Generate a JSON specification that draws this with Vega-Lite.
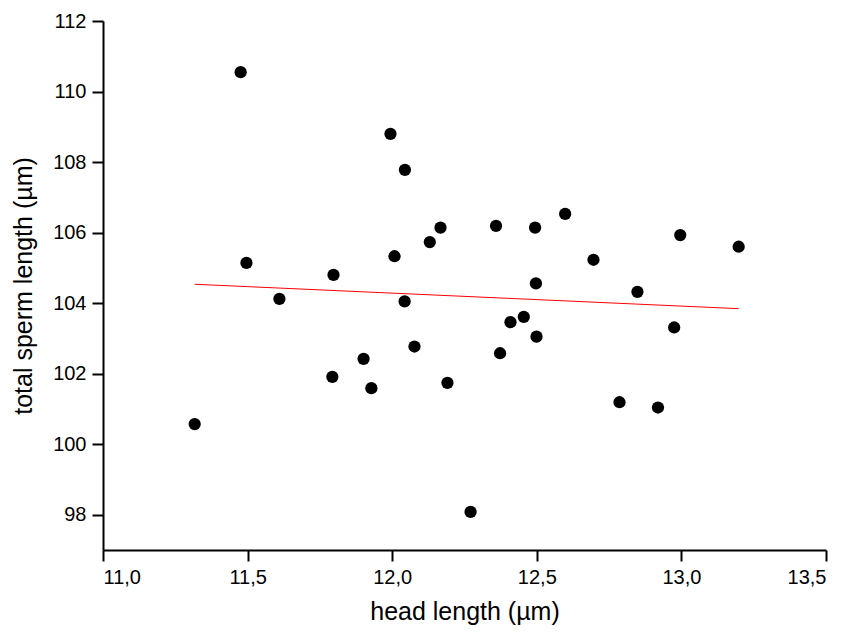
{
  "$schema": "https://vega.github.io/schema/vega-lite/v6.json",
  "width": 723,
  "height": 529,
  "autosize": "none",
  "padding": {"left": 103, "top": 21, "right": 25, "bottom": 83},
  "background": "white",
  "datasets": {
    "pts": [
      {"head": 11.476, "total": 110.55},
      {"head": 11.496, "total": 105.14},
      {"head": 11.317, "total": 100.57},
      {"head": 11.610, "total": 104.12},
      {"head": 11.797, "total": 104.80},
      {"head": 11.793, "total": 101.91},
      {"head": 11.901, "total": 102.42},
      {"head": 11.928, "total": 101.59},
      {"head": 11.994, "total": 108.80},
      {"head": 12.008, "total": 105.33},
      {"head": 12.044, "total": 107.78},
      {"head": 12.043, "total": 104.05},
      {"head": 12.077, "total": 102.77},
      {"head": 12.130, "total": 105.73},
      {"head": 12.167, "total": 106.14},
      {"head": 12.191, "total": 101.74},
      {"head": 12.271, "total": 98.08},
      {"head": 12.359, "total": 106.19},
      {"head": 12.373, "total": 102.58},
      {"head": 12.409, "total": 103.46},
      {"head": 12.455, "total": 103.61},
      {"head": 12.494, "total": 106.14},
      {"head": 12.497, "total": 104.56},
      {"head": 12.499, "total": 103.05},
      {"head": 12.598, "total": 106.53},
      {"head": 12.696, "total": 105.23},
      {"head": 12.786, "total": 101.19},
      {"head": 12.848, "total": 104.32},
      {"head": 12.919, "total": 101.04},
      {"head": 12.975, "total": 103.31},
      {"head": 12.996, "total": 105.93},
      {"head": 13.198, "total": 105.60}
    ],
    "fit": [
      {"head": 11.317, "total": 104.535},
      {"head": 13.198, "total": 103.843}
    ]
  },
  "layer": [
    {
      "data": {"name": "fit"},
      "mark": {"type": "line", "color": "#ff0000", "strokeWidth": 1},
      "encoding": {
        "x": {"field": "head", "type": "quantitative"},
        "y": {"field": "total", "type": "quantitative"}
      }
    },
    {
      "data": {"name": "pts"},
      "mark": {"type": "circle", "color": "black", "opacity": 1, "size": 150},
      "encoding": {
        "x": {
          "field": "head",
          "type": "quantitative",
          "scale": {"domain": [11, 13.5], "nice": false, "zero": false},
          "axis": {
            "title": "head length (µm)",
            "values": [11, 11.5, 12, 12.5, 13, 13.5],
            "labelExpr": "replace(format(datum.value, '.1f'), '.', ',')",
            "grid": false,
            "labelPadding": 6,
            "titlePadding": 12
          }
        },
        "y": {
          "field": "total",
          "type": "quantitative",
          "scale": {"domain": [97, 112], "nice": false, "zero": false},
          "axis": {
            "title": "total sperm length (µm)",
            "values": [98, 100, 102, 104, 106, 108, 110, 112],
            "grid": false,
            "labelPadding": 6,
            "titlePadding": 16
          }
        }
      }
    }
  ],
  "config": {
    "view": {"stroke": null},
    "axis": {
      "domainColor": "black",
      "domainWidth": 2,
      "tickColor": "black",
      "tickWidth": 2,
      "tickSize": 11,
      "labelColor": "black",
      "titleColor": "black",
      "labelFont": "Liberation Sans",
      "titleFont": "Liberation Sans",
      "labelFontSize": 20,
      "titleFontSize": 25,
      "titleFontWeight": "normal"
    }
  }
}
